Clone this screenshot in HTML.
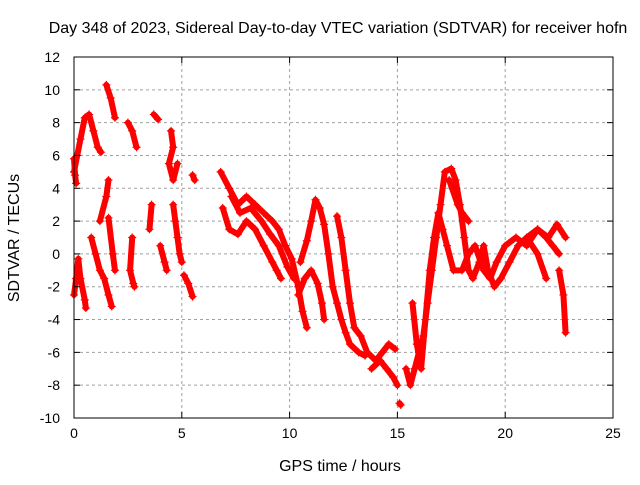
<!DOCTYPE html>
<html><head><meta charset="utf-8"><style>
body{margin:0;background:#fff}
svg text{font-family:"Liberation Sans",sans-serif;font-size:14px;fill:#000}
svg text.big{font-size:16px}
</style></head><body>
<svg id="chart" width="640" height="480">
<g id="grid"></g><g id="marks"></g><g id="axes"></g>
<text class="big" x="338" y="33" text-anchor="middle">Day 348 of 2023, Sidereal Day-to-day VTEC variation (SDTVAR) for receiver hofn</text>
<text class="big" x="340" y="471" text-anchor="middle">GPS time / hours</text>
<text class="big" transform="translate(19,238) rotate(-90)" text-anchor="middle">SDTVAR / TECUs</text>
</svg>
<script>
const xTicks=[0,5,10,15,20,25];
const yTicks=[-10,-8,-6,-4,-2,0,2,4,6,8,10,12];
const traces=[
[[0,5],[0.15,6],[0.3,7],[0.5,8.3],[0.7,8.5],[0.9,7.5],[1.1,6.5],[1.25,6.2]],
[[0,-2.5],[0.1,-1.5],[0.2,-0.3],[0.3,-1.5],[0.5,-2.8],[0.55,-3.3]],
[[0,5.8],[0.05,4.8],[0.1,4.3]],
[[0.8,1],[1.0,0],[1.2,-1],[1.4,-1.5],[1.6,-2.5],[1.75,-3.2]],
[[1.5,10.3],[1.7,9.5],[1.9,8.3]],
[[1.2,2],[1.5,3.5],[1.6,4.5]],
[[1.6,2.2],[1.8,0],[1.9,-1]],
[[2.5,8],[2.7,7.5],[2.9,6.5]],
[[2.7,1],[2.6,-1],[2.75,-1.8],[2.8,-2]],
[[3.7,8.5],[3.9,8.2]],
[[4.0,0.5],[4.2,-0.5],[4.3,-1]],
[[4.5,7.5],[4.6,6.5],[4.4,5.5],[4.6,4.5],[4.8,5.5]],
[[4.6,3],[4.7,2],[4.8,1],[4.9,0],[5.0,-0.5]],
[[5.1,-1.3],[5.3,-1.8],[5.5,-2.6]],
[[5.5,4.8],[5.6,4.5]],
[[3.5,1.5],[3.6,3]],
[[6.8,5],[7.2,4],[7.6,3],[8.0,3.5],[8.4,3],[8.8,2.5],[9.2,2],[9.5,1.5],[9.8,0.5],[10.1,-0.3],[10.4,-2],[10.6,-3.5],[10.8,-4.5]],
[[6.9,2.8],[7.2,1.5],[7.6,1.2],[8.0,2],[8.4,1.5],[8.8,0.5],[9.2,-0.5],[9.4,-1],[9.6,-1.5]],
[[7.3,3.5],[7.7,2.5],[8.2,2.8],[8.7,2],[9.1,1.2],[9.5,0.5],[9.9,-0.8],[10.2,-1.5]],
[[10.5,-0.5],[10.8,0.8],[11.0,2],[11.2,3.3],[11.4,2.8],[11.6,1.8],[11.8,0],[12,-2],[12.2,-3],[12.4,-4],[12.6,-4.8],[12.8,-5.5],[13.2,-6],[13.5,-6.2]],
[[10.4,-2.5],[10.7,-1.5],[11,-1],[11.3,-1.8],[11.5,-3],[11.6,-4]],
[[12.2,2.3],[12.4,1],[12.6,-1],[12.8,-3],[13.0,-4.5],[13.3,-5],[13.6,-6],[14,-6.5],[14.3,-6],[14.6,-5.5],[14.9,-5.8]],
[[13.8,-7],[14.2,-6.5],[14.5,-7],[14.8,-7.5],[15.0,-8]],
[[15.1,-9.1],[15.15,-9.2]],
[[15.4,-7],[15.6,-8],[15.8,-7],[16.0,-6],[16.2,-5],[16.4,-3],[16.6,-1],[16.8,1],[17,3],[17.2,5],[17.5,5.2],[17.7,4.5],[17.9,3],[18.1,1],[18.3,-1],[18.5,-1.5],[18.8,-0.5],[19,0.5],[19.2,-1],[19.5,-2],[19.8,-1.5],[20.2,-0.5],[20.6,0.5],[21,1],[21.5,1.5],[21.9,1],[22.2,0.5],[22.5,0]],
[[15.7,-3],[15.9,-5.5],[16.1,-7],[16.3,-4],[16.5,-1],[16.7,1],[16.9,2.5],[17.1,1.5],[17.3,0.5],[17.6,-1],[18,-1],[18.3,0],[18.6,0.5],[19,-1],[19.3,-1.5],[19.6,-0.5],[20,0.5],[20.5,1],[21,0.5],[21.5,1.5],[22,1],[22.4,1.8],[22.8,1]],
[[17.4,4.5],[17.8,3],[18.0,2.5],[18.3,2]],
[[22.5,-1],[22.7,-2.5],[22.8,-4.8]],
[[21.0,1],[21.5,0],[21.9,-1.5]]
];
const X0=74,X1=613,Y0=418,Y1=57;
const xs=t=>X0+(t-0)/25*(X1-X0);
const ys=v=>Y0-(v+10)/22*(Y0-Y1);
const NS='http://www.w3.org/2000/svg';
function mk(tag,attrs,parent){const e=document.createElementNS(NS,tag);for(const k in attrs)e.setAttribute(k,attrs[k]);parent.appendChild(e);return e;}
const grid=document.getElementById('grid'),axes=document.getElementById('axes'),marks=document.getElementById('marks');
xTicks.forEach(t=>{const x=xs(t);
 if(t>0&&t<25){const g=mk('line',{x1:x,x2:x,y1:Y1,y2:Y0,stroke:'#a0a0a0','stroke-dasharray':'3,3'},grid);
 
 }
 mk('line',{x1:x,x2:x,y1:Y0,y2:Y0-6,stroke:'#000'},axes);mk('line',{x1:x,x2:x,y1:Y1,y2:Y1+6,stroke:'#000'},axes);
 const l=mk('text',{x:x,y:Y0+20,'text-anchor':'middle'},axes);l.textContent=t;
 
 });
yTicks.forEach(v=>{const y=ys(v);
 if(v>-10&&v<12){const g=mk('line',{x1:X0,x2:X1,y1:y,y2:y,stroke:'#a0a0a0','stroke-dasharray':'3,3'},grid);
 
 }
 mk('line',{x1:X0,x2:X0+6,y1:y,y2:y,stroke:'#000'},axes);mk('line',{x1:X1,x2:X1-6,y1:y,y2:y,stroke:'#000'},axes);
 const l=mk('text',{x:X0-14,y:y+5,'text-anchor':'end'},axes);l.textContent=v;
 
 });
const fr=mk('rect',{x:X0,y:Y1,width:X1-X0,height:Y0-Y1,fill:'none',stroke:'#000'},axes);


traces.forEach(tr=>{
 const pl=mk('polyline',{points:tr.map(p=>xs(p[0])+','+ys(p[1])).join(' '),fill:'none',stroke:'#f00','stroke-width':6,'stroke-linejoin':'round','stroke-linecap':'round'},marks);
 
 
 tr.forEach(p=>{const x=xs(p[0]),y=ys(p[1]);
  const m=mk('path',{d:`M${x-4},${y}h8M${x},${y-4}v8`,stroke:'#f00','stroke-width':1.2},marks);
  
  });
});
</script>
</body></html>
